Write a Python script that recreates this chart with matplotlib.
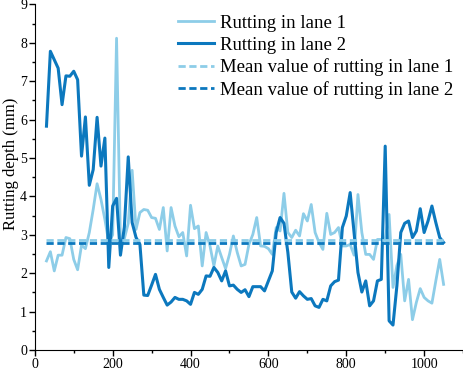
import numpy as np
import matplotlib
matplotlib.use('Agg')
import matplotlib.pyplot as plt
from matplotlib.ticker import MultipleLocator

plt.rcParams['font.family'] = ['Liberation Serif', 'DejaVu Serif']
plt.rcParams['font.size'] = 10

# Data (distance in m, rutting depth in mm)
distance = list(range(30, 1051, 10))

lane1 = [2.32, 2.56, 2.06, 2.47, 2.47, 2.93, 2.90, 2.36, 2.09, 2.73,
         2.64, 3.06, 3.66, 4.33, 3.92, 3.40, 2.80, 3.00, 8.12, 2.80,
         2.90, 3.30, 4.68, 3.14, 3.58, 3.66, 3.64, 3.45, 3.43, 3.14,
         3.71, 2.58, 3.71, 3.23, 2.95, 3.06, 2.45, 3.77, 3.16, 3.23,
         2.19, 3.06, 2.71, 2.19, 2.71, 2.41, 2.12, 2.49, 2.97, 2.54,
         2.19, 2.23, 2.75, 3.01, 3.45, 2.71, 2.70, 2.64, 2.49, 3.19,
         3.10, 4.08, 3.06, 2.93, 3.12, 2.97, 3.55, 3.36, 3.79, 3.06,
         2.80, 2.62, 3.56, 3.01, 3.06, 3.19, 2.71, 2.71, 2.75, 2.47,
         4.05, 3.06, 2.49, 2.49, 2.36, 2.88, 2.88, 2.90, 3.53, 1.63,
         2.20, 2.49, 1.28, 1.84, 0.79, 1.24, 1.60, 1.37, 1.28, 1.22,
         1.80, 2.36, 1.71]

lane2 = [5.83, 7.78, 7.56, 7.34, 6.39, 7.14, 7.13, 7.26, 7.04, 5.05,
         6.07, 4.29, 4.70, 6.06, 4.79, 5.52, 2.15, 3.75, 3.95, 2.47,
         3.20, 5.03, 3.32, 2.93, 2.75, 1.43, 1.42, 1.69, 1.97, 1.58,
         1.37, 1.17, 1.25, 1.37, 1.32, 1.32, 1.28, 1.19, 1.50, 1.45,
         1.58, 1.93, 1.92, 2.15, 2.02, 1.80, 2.06, 1.67, 1.69, 1.58,
         1.50, 1.57, 1.39, 1.65, 1.65, 1.65, 1.54, 1.80, 2.06, 3.06,
         3.45, 3.30, 2.54, 1.51, 1.35, 1.52, 1.41, 1.32, 1.34, 1.15,
         1.11, 1.32, 1.28, 1.67, 1.78, 1.82, 3.19, 3.49, 4.10, 3.06,
         2.02, 1.51, 1.80, 1.15, 1.28, 1.80, 1.84, 5.31, 0.76, 0.65,
         1.67, 3.06, 3.30, 3.36, 2.93, 3.10, 3.68, 3.06, 3.36, 3.75,
         3.32, 2.93, 2.80]

mean1 = 2.86
mean2 = 2.79

light = '#8DCDE8'
dark = '#0C78BE'

fig = plt.figure(figsize=(4.64, 3.70), dpi=100)
ax = fig.add_axes([0.075, 0.054, 0.923, 0.934])

ax.plot(distance, lane1, color=light, lw=2.0, label='Rutting in lane 1')
ax.plot(distance, lane2, color=dark, lw=2.2, label='Rutting in lane 2')
ax.plot([distance[0], distance[-1]], [mean1, mean1], color=light, lw=2.0,
        ls=(0, (2.6, 1.3)), label='Mean value of rutting in lane 1')
ax.plot([distance[0], distance[-1]], [mean2, mean2], color=dark, lw=2.0,
        ls=(0, (2.6, 1.3)), label='Mean value of rutting in lane 2')

ax.set_xlim(0, 1100)
ax.set_ylim(0, 9)
ax.xaxis.set_major_locator(MultipleLocator(200))
ax.xaxis.set_minor_locator(MultipleLocator(100))
ax.yaxis.set_major_locator(MultipleLocator(1))
ax.yaxis.set_minor_locator(MultipleLocator(0.5))
ax.tick_params(which='major', direction='out', length=4, width=1, pad=1.5,
               labelsize=10)
ax.tick_params(which='minor', direction='out', length=2.5, width=1)
ax.spines['top'].set_visible(False)
ax.spines['right'].set_visible(False)
ax.set_ylabel('Rutting depth (mm)', fontsize=12)
ax.yaxis.set_label_coords(-0.037, 0.54)

ax.legend(loc='upper right', frameon=False, fontsize=13.5, handlelength=1.9,
          borderaxespad=0.35, borderpad=0.2, labelspacing=0.25,
          handletextpad=0.3)

fig.savefig('out.png', dpi=100)
